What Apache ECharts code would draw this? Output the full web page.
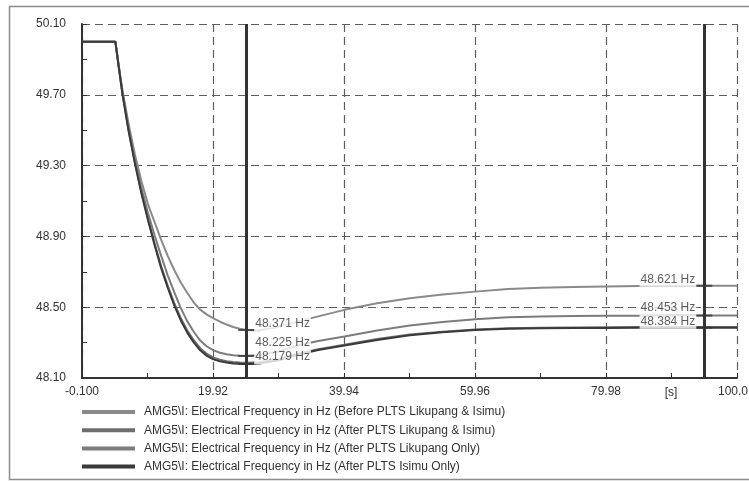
<!DOCTYPE html>
<html><head><meta charset="utf-8">
<script src="https://cdn.jsdelivr.net/npm/echarts@6/dist/echarts.min.js"></script>
<style>html,body{margin:0;padding:0;background:#fff}#c{width:749px;height:482px}</style>
</head><body><div id="c"></div>
<script>
// ---- data ----
const timeS = [-0.1, 5.0, 5.5, 6.1, 7, 8, 9, 10, 11, 12, 13, 14, 15, 16, 17, 18, 19, 20, 21, 22, 23, 24, 25, 27, 30, 33, 36, 40, 45, 50, 55, 60, 65, 70, 75, 80, 85, 90, 95, 100];
const seriesNames = [
  'AMG5\\I: Electrical Frequency in Hz (Before PLTS Likupang & Isimu)',
  'AMG5\\I: Electrical Frequency in Hz (After PLTS Likupang & Isimu)',
  'AMG5\\I: Electrical Frequency in Hz (After PLTS Likupang Only)',
  'AMG5\\I: Electrical Frequency in Hz (After PLTS Isimu Only)'
];
const freqBefore = [50.00, 50.00, 49.87, 49.72, 49.54, 49.36, 49.21, 49.08, 48.98, 48.88, 48.79, 48.71, 48.64, 48.58, 48.525, 48.485, 48.458, 48.437, 48.418, 48.402, 48.388, 48.378, 48.371, 48.370, 48.390, 48.420, 48.448, 48.485, 48.522, 48.551, 48.572, 48.588, 48.603, 48.610, 48.614, 48.617, 48.620, 48.621, 48.621, 48.621];
const freqAfterBoth = [50.00, 50.00, 49.862, 49.703, 49.505, 49.315, 49.147, 48.998, 48.860, 48.731, 48.622, 48.523, 48.438, 48.368, 48.312, 48.267, 48.236, 48.215, 48.203, 48.195, 48.190, 48.187, 48.186, 48.189, 48.207, 48.239, 48.263, 48.288, 48.320, 48.346, 48.362, 48.374, 48.381, 48.384, 48.386, 48.387, 48.388, 48.388, 48.388, 48.388];
const freqLikupangOnly = [50.00, 50.00, 49.865, 49.71, 49.52, 49.33, 49.17, 49.03, 48.905, 48.79, 48.68, 48.585, 48.495, 48.42, 48.36, 48.31, 48.278, 48.256, 48.243, 48.234, 48.229, 48.226, 48.225, 48.228, 48.250, 48.285, 48.309, 48.334, 48.368, 48.396, 48.417, 48.432, 48.443, 48.448, 48.450, 48.451, 48.452, 48.453, 48.453, 48.453];
const freqIsimuOnly = [50.00, 50.00, 49.86, 49.70, 49.50, 49.31, 49.14, 48.99, 48.85, 48.72, 48.61, 48.51, 48.425, 48.355, 48.30, 48.255, 48.225, 48.205, 48.194, 48.187, 48.182, 48.180, 48.179, 48.182, 48.200, 48.233, 48.258, 48.283, 48.315, 48.342, 48.358, 48.371, 48.378, 48.381, 48.382, 48.383, 48.384, 48.384, 48.384, 48.384];
const xTickLabels = ['-0.100', '19.92', '39.94', '59.96', '79.98', '100.0'];
const yTickLabels = ['48.10', '48.50', '48.90', '49.30', '49.70', '50.10'];
const cursorTimes = [25, 95];
const cursorLeftReadings = [48.371, 48.225, 48.179];
const cursorRightReadings = [48.621, 48.453, 48.384];

// ---- axis helpers (axes are shifted so min is a multiple of the interval) ----
const X0 = -0.1, XSTEP = 20.02, Y0 = 48.10, YSTEP = 0.4;
const toX = t => +(t - X0).toFixed(4);
const toY = f => +(f - Y0).toFixed(4);

const FONT = 'Liberation Sans, Arial, sans-serif';
const lineColors = ['#8a8a8a', '#6e6e6e', '#7c7c7c', '#3a3a3a'];
const lineWidths = [2, 2, 2, 2];
const freqs = [freqBefore, freqAfterBoth, freqLikupangOnly, freqIsimuOnly];

const lineSeries = freqs.map((arr, i) => ({
  name: seriesNames[i],
  type: 'line',
  data: timeS.map((t, k) => [toX(t), toY(arr[k])]),
  showSymbol: false,
  symbol: 'none',
  smooth: false,
  color: lineColors[i],
  lineStyle: { color: lineColors[i], width: lineWidths[i] },
  z: 2,
  animation: false
}));

const leftOffsets = [[0, -6], [0, -13], [0, -7]];
const rightOffsets = [[0, -6], [0, -8], [0, -6]];
const labelStyle = { show: true, fontSize: 12, fontFamily: FONT, color: '#333', backgroundColor: '#fff', padding: [1, 1], distance: 0 };

const cursorData = [];
cursorLeftReadings.forEach((v, i) => cursorData.push({
  value: [toX(cursorTimes[0]), toY(v)],
  label: Object.assign({}, labelStyle, { position: 'right', offset: leftOffsets[i], formatter: v.toFixed(3) + ' Hz' })
}));
cursorRightReadings.forEach((v, i) => cursorData.push({
  value: [toX(cursorTimes[1]), toY(v)],
  label: Object.assign({}, labelStyle, { position: 'left', offset: rightOffsets[i], formatter: v.toFixed(3) + ' Hz' })
}));

const cursorSeries = {
  name: 'cursor',
  type: 'scatter',
  data: cursorData,
  symbol: 'rect',
  symbolSize: [16, 2],
  itemStyle: { color: '#333' },
  z: 5,
  animation: false,
  markLine: {
    silent: true,
    symbol: 'none',
    label: { show: false },
    lineStyle: { color: '#333', width: 3, type: 'solid' },
    data: cursorTimes.map(t => ({ xAxis: toX(t) })),
    animation: false
  }
};

const chart = echarts.init(document.getElementById('c'), null, { renderer: 'canvas' });
chart.setOption({
  animation: false,
  backgroundColor: '#fff',
  grid: { left: 82, right: 12, top: 24, bottom: 104, containLabel: false, outerBoundsMode: 'none' },
  xAxis: {
    type: 'value',
    min: 0, max: toX(100.0), interval: XSTEP,
    axisLine: { show: true, onZero: false, lineStyle: { color: '#333', width: 2 } },
    axisTick: { show: true, inside: true, length: 5, lineStyle: { color: '#333' } },
    minorTick: { show: true, splitNumber: 2, length: 5, lineStyle: { color: '#333' } },
    axisLabel: {
      margin: 8, fontSize: 12, fontFamily: FONT, color: '#333',
      formatter: v => {
        const i = Math.round(v / XSTEP);
        const s = xTickLabels[i] ?? '';
        return i === xTickLabels.length - 1 ? '{last|' + s + '}' : s;
      },
      rich: { last: { fontSize: 12, fontFamily: FONT, color: '#333', padding: [0, 8, 0, 0] } }
    },
    splitLine: { show: true, lineStyle: { color: '#5e5e5e', width: 1.2, type: [8, 5] } }
  },
  yAxis: {
    type: 'value',
    min: 0, max: toY(50.10), interval: YSTEP,
    axisLine: { show: true, onZero: false, lineStyle: { color: '#333', width: 2 } },
    axisTick: { show: true, inside: true, length: 5, lineStyle: { color: '#333' } },
    minorTick: { show: true, splitNumber: 2, length: 5, lineStyle: { color: '#333' } },
    axisLabel: {
      margin: 16, fontSize: 12, fontFamily: FONT, color: '#333',
      formatter: v => yTickLabels[Math.round(v / YSTEP)] ?? ''
    },
    splitLine: { show: true, lineStyle: { color: '#5e5e5e', width: 1.2, type: [8, 5] } }
  },
  legend: {
    data: seriesNames,
    orient: 'vertical',
    left: 82, top: 405,
    icon: 'rect',
    itemWidth: 53, itemHeight: 4,
    itemGap: 4.2,
    padding: 0,
    textStyle: { fontSize: 12, fontFamily: FONT, color: '#333', lineHeight: 14, padding: [0, 0, 0, 4] }
  },
  graphic: [
    { type: 'rect', silent: true, z: -10, shape: { x: 9.5, y: 6.5, width: 800, height: 473 }, style: { fill: 'none', stroke: '#8c8c8c', lineWidth: 1.5 } },
    { type: 'text', silent: true, style: { text: '[s]', x: 671, y: 393, align: 'center', verticalAlign: 'middle', font: '12px ' + FONT, fill: '#333' } }
  ],
  series: [...lineSeries, cursorSeries]
});
</script></body></html>
